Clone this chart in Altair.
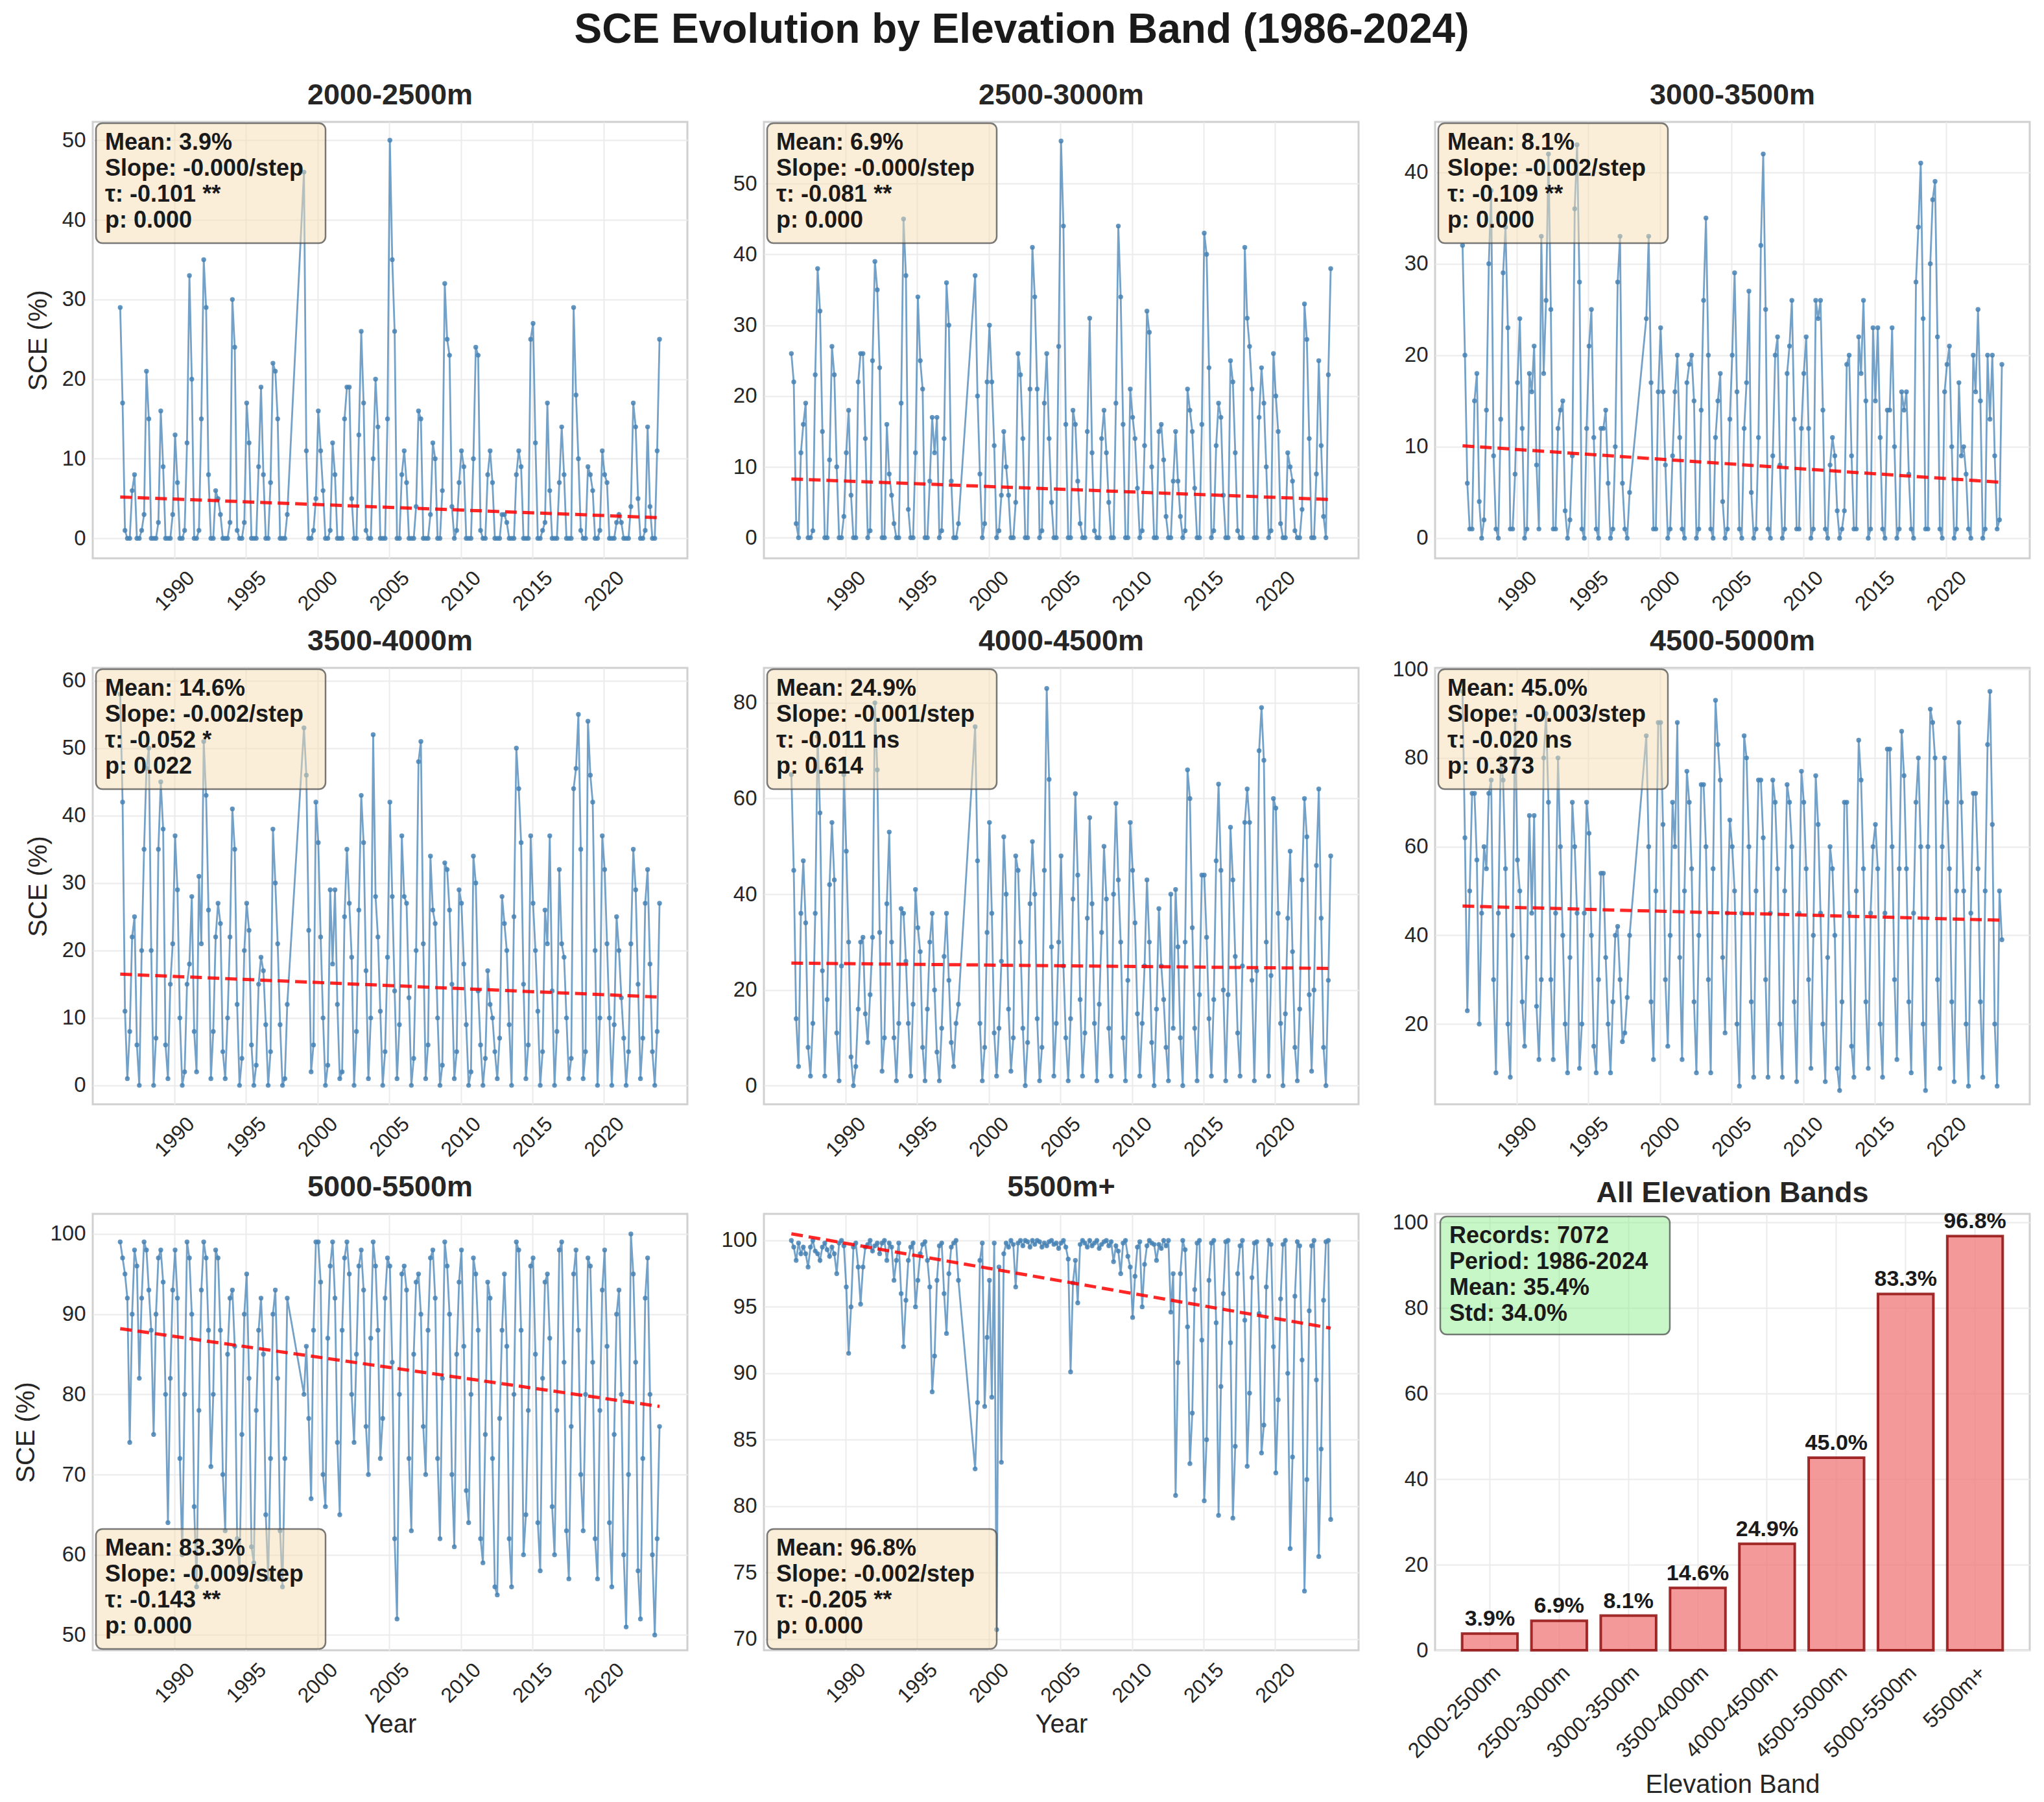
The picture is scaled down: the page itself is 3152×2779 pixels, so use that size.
import altair as alt
import pandas as pd

FONT = "Liberation Sans"

bands = ["2000-2500m", "2500-3000m", "3000-3500m", "3500-4000m",
         "4000-4500m", "4500-5000m", "5000-5500m", "5500m+"]

# sampling calendar: bi-monthly, Mar-1986 .. Nov-2023, no data in 1998
months = [1, 3, 5, 7, 9, 11]
years = list(range(1986, 1998)) + list(range(1999, 2024))
dates = [round(y + (m - 0.5) / 12, 3) for y in years for m in months
         if not (y == 1986 and m == 1)]

sce_2000_2500 = [
    29, 17, 1, 0, 0,
    6, 8, 0, 0, 1, 3,
    21, 15, 0, 0, 0, 2,
    16, 9, 0, 0, 0, 3,
    13, 7, 0, 0, 1, 12,
    33, 20, 0, 0, 1, 15,
    35, 29, 8, 0, 0, 6,
    5, 3, 0, 0, 0, 2,
    30, 24, 1, 0, 0, 2,
    17, 12, 0, 0, 0, 9,
    19, 8, 0, 0, 7, 22,
    21, 15, 0, 0, 0, 3,
    46, 11, 0, 0, 1, 5,
    16, 11, 6, 0, 0, 1,
    12, 8, 0, 0, 0, 15,
    19, 19, 5, 0, 0, 13,
    26, 17, 1, 0, 0, 10,
    20, 14, 0, 0, 0, 15,
    50, 35, 26, 0, 0, 8,
    11, 7, 0, 0, 0, 4,
    16, 15, 0, 0, 0, 3,
    12, 10, 0, 0, 6, 32,
    25, 23, 4, 0, 1, 7,
    11, 9, 0, 0, 0, 10,
    24, 23, 1, 0, 0, 8,
    11, 7, 0, 0, 0, 3,
    3, 2, 0, 0, 0, 8,
    11, 9, 0, 0, 0, 25,
    27, 12, 0, 0, 1, 2,
    17, 6, 0, 0, 0, 7,
    14, 8, 0, 0, 0, 29,
    18, 10, 1, 0, 0, 9,
    8, 6, 0, 0, 1, 11,
    8, 7, 0, 0, 0, 2,
    3, 2, 0, 0, 0, 4,
    17, 14, 5, 0, 0, 1,
    14, 4, 0, 0, 11, 25,
]

sce_2500_3000 = [
    26, 22, 2, 0, 12,
    16, 19, 0, 0, 1, 23,
    38, 32, 15, 0, 0, 11,
    27, 23, 10, 0, 0, 3,
    12, 18, 6, 0, 0, 22,
    26, 26, 14, 0, 1, 25,
    39, 35, 24, 0, 0, 16,
    9, 6, 2, 0, 0, 19,
    45, 37, 4, 0, 0, 12,
    34, 25, 21, 0, 0, 8,
    17, 12, 17, 0, 1, 14,
    36, 30, 8, 0, 0, 2,
    37, 20, 9, 0, 2, 22,
    30, 22, 13, 0, 1, 6,
    15, 10, 6, 0, 0, 5,
    26, 23, 14, 0, 0, 21,
    41, 34, 21, 0, 1, 19,
    26, 14, 5, 0, 0, 27,
    56, 44, 16, 0, 0, 18,
    16, 8, 2, 0, 0, 15,
    31, 12, 1, 0, 0, 14,
    18, 12, 5, 0, 0, 19,
    44, 34, 16, 0, 0, 21,
    17, 14, 7, 0, 1, 13,
    32, 29, 10, 0, 0, 15,
    16, 11, 3, 0, 0, 8,
    15, 8, 3, 0, 1, 21,
    18, 15, 7, 0, 0, 16,
    43, 40, 24, 0, 1, 13,
    19, 17, 6, 0, 0, 25,
    22, 12, 1, 0, 0, 41,
    31, 27, 21, 0, 0, 17,
    24, 19, 10, 0, 1, 26,
    20, 15, 2, 0, 0, 12,
    10, 8, 1, 0, 0, 4,
    33, 28, 14, 0, 0, 9,
    25, 13, 3, 0, 23, 38,
]

sce_3000_3500 = [
    32, 20, 6, 1, 1,
    15, 18, 4, 0, 2, 14,
    30, 38, 9, 1, 0, 13,
    29, 34, 23, 1, 1, 7,
    17, 24, 12, 0, 1, 18,
    16, 21, 8, 1, 33, 18,
    26, 42, 25, 1, 1, 12,
    14, 15, 3, 0, 2, 9,
    36, 43, 28, 1, 0, 12,
    21, 25, 11, 1, 0, 12,
    12, 14, 6, 0, 1, 10,
    28, 33, 6, 1, 0, 5,
    24, 33, 17, 1, 1, 16,
    23, 16, 8, 0, 1, 9,
    16, 20, 11, 1, 0, 17,
    19, 20, 15, 0, 1, 14,
    26, 35, 20, 1, 0, 11,
    15, 18, 4, 0, 1, 13,
    20, 29, 16, 1, 0, 12,
    17, 27, 5, 0, 1, 11,
    32, 42, 25, 1, 0, 9,
    20, 22, 8, 0, 1, 18,
    21, 26, 13, 1, 1, 12,
    18, 22, 12, 0, 1, 26,
    24, 26, 14, 1, 0, 8,
    11, 9, 3, 0, 1, 3,
    19, 20, 9, 1, 1, 22,
    18, 26, 15, 0, 1, 23,
    15, 23, 11, 1, 0, 14,
    14, 23, 10, 0, 1, 16,
    14, 16, 7, 1, 0, 28,
    34, 41, 24, 1, 1, 30,
    37, 39, 22, 1, 0, 16,
    19, 21, 10, 0, 1, 17,
    9, 10, 7, 1, 0, 20,
    16, 25, 15, 0, 1, 20,
    13, 20, 9, 1, 2, 19,
]

sce_3500_4000 = [
    58, 42, 11, 1, 8,
    22, 25, 6, 0, 20, 35,
    47, 50, 20, 0, 7, 35,
    45, 38, 6, 1, 15, 21,
    37, 29, 10, 0, 2, 15,
    18, 28, 8, 2, 31, 21,
    51, 43, 26, 1, 8, 22,
    27, 24, 5, 1, 10, 22,
    41, 35, 12, 0, 4, 20,
    27, 23, 6, 0, 3, 15,
    19, 17, 9, 0, 5, 38,
    30, 21, 9, 0, 1, 12,
    53, 46, 23, 2, 6, 42,
    36, 22, 10, 0, 3, 29,
    18, 29, 12, 1, 2, 25,
    35, 27, 19, 0, 8, 26,
    43, 36, 17, 1, 10, 52,
    28, 22, 11, 0, 5, 19,
    42, 28, 14, 1, 9, 37,
    28, 27, 13, 0, 4, 20,
    48, 51, 21, 1, 6, 34,
    26, 24, 10, 0, 3, 33,
    32, 26, 15, 1, 5, 29,
    27, 18, 9, 0, 2, 34,
    30, 14, 6, 0, 4, 17,
    12, 10, 5, 1, 7, 28,
    24, 20, 9, 0, 25, 50,
    44, 36, 15, 1, 6, 37,
    27, 20, 11, 0, 5, 26,
    21, 37, 14, 0, 8, 32,
    21, 19, 10, 1, 4, 44,
    47, 55, 35, 1, 5, 54,
    46, 42, 20, 0, 10, 37,
    32, 21, 10, 0, 9, 25,
    20, 13, 7, 0, 5, 21,
    35, 29, 15, 1, 7, 27,
    32, 18, 5, 0, 8, 27,
]

sce_4000_4500 = [
    65, 45, 14, 4, 36,
    47, 34, 8, 2, 13, 36,
    73, 57, 24, 2, 18, 42,
    55, 43, 11, 1, 25, 65,
    49, 30, 6, 0, 4, 16,
    30, 31, 15, 9, 19, 31,
    80, 66, 32, 3, 10, 38,
    53, 30, 10, 1, 13, 37,
    36, 26, 13, 2, 17, 41,
    33, 28, 8, 1, 16, 30,
    36, 20, 7, 1, 12, 27,
    36, 22, 9, 4, 13, 17,
    75, 47, 13, 1, 8, 32,
    55, 36, 11, 2, 12, 26,
    52, 40, 16, 3, 10, 48,
    45, 30, 12, 0, 9, 38,
    51, 40, 14, 1, 8, 45,
    83, 64, 29, 2, 13, 30,
    48, 25, 10, 1, 14, 39,
    61, 44, 18, 2, 11, 35,
    56, 38, 13, 1, 17, 32,
    50, 39, 12, 2, 40, 59,
    43, 30, 10, 1, 22, 55,
    45, 34, 15, 2, 13, 25,
    43, 30, 9, 0, 16, 37,
    25, 18, 8, 1, 40, 12,
    41, 29, 10, 0, 30, 66,
    60, 33, 12, 1, 19, 44,
    44, 31, 14, 2, 18, 47,
    63, 45, 20, 1, 19, 54,
    43, 27, 11, 2, 25, 55,
    62, 55, 22, 1, 24, 70,
    79, 68, 30, 2, 23, 60,
    58, 36, 13, 0, 15, 35,
    49, 28, 8, 1, 16, 43,
    60, 52, 19, 3, 20, 46,
    62, 35, 8, 0, 22, 48,
]

sce_4500_5000 = [
    95, 62, 23, 50, 72,
    72, 57, 20, 45, 60, 55,
    72, 75, 30, 9, 45, 80,
    75, 55, 20, 8, 40, 90,
    57, 50, 25, 15, 35, 67,
    45, 67, 24, 12, 30, 80,
    90, 70, 30, 12, 45, 80,
    60, 40, 20, 9, 35, 70,
    60, 45, 10, 20, 45, 70,
    63, 40, 15, 9, 30, 54,
    54, 35, 20, 9, 25, 40,
    42, 30, 16, 18, 26, 40,
    85, 60, 25, 12, 50, 88,
    88, 65, 30, 15, 40, 70,
    60, 88, 35, 12, 50, 77,
    70, 55, 25, 9, 40, 74,
    74, 60, 30, 9, 55, 93,
    83, 75, 35, 18, 45, 66,
    60, 50, 20, 6, 45, 85,
    80, 60, 25, 8, 50, 75,
    75, 62, 30, 8, 45, 75,
    70, 55, 20, 8, 50, 74,
    70, 60, 25, 7, 45, 77,
    70, 55, 30, 10, 40, 76,
    65, 45, 20, 7, 35, 60,
    55, 40, 10, 5, 25, 70,
    70, 45, 15, 8, 50, 84,
    75, 55, 25, 10, 45, 60,
    65, 55, 20, 8, 45, 82,
    82, 60, 30, 12, 55, 86,
    76, 55, 25, 9, 45, 70,
    80, 60, 20, 5, 60, 91,
    88, 80, 30, 10, 60, 80,
    70, 55, 25, 7, 50, 88,
    70, 50, 20, 6, 45, 72,
    72, 55, 25, 8, 50, 83,
    95, 65, 20, 6, 50, 39,
]

sce_5000_5500 = [
    99, 97, 95, 92, 74,
    90, 98, 96, 82, 92, 99,
    98, 93, 88, 75, 90, 97,
    98, 94, 80, 64, 82, 93,
    98, 92, 72, 60, 80, 99,
    97, 90, 66, 56, 78, 93,
    99, 97, 88, 71, 80, 98,
    97, 88, 70, 63, 85, 92,
    93, 86, 62, 58, 75, 90,
    95, 82, 61, 59, 78, 88,
    92, 85, 65, 57, 72, 90,
    93, 82, 63, 56, 72, 92,
    80, 86, 77, 67, 88, 99,
    99, 94, 70, 66, 87, 96,
    99, 92, 74, 65, 88, 97,
    99, 95, 80, 74, 85, 96,
    98, 93, 76, 70, 87, 99,
    96, 88, 72, 77, 92, 97,
    96, 84, 62, 52, 80, 95,
    96, 93, 72, 63, 85, 94,
    95, 90, 76, 70, 88, 97,
    98, 92, 72, 62, 82, 99,
    96, 90, 70, 61, 85, 94,
    98, 86, 68, 64, 80, 97,
    95, 88, 62, 59, 75, 94,
    92, 72, 56, 55, 77, 88,
    95, 86, 62, 56, 80, 99,
    98, 88, 60, 65, 78, 96,
    97, 85, 64, 58, 82, 94,
    95, 87, 66, 60, 78, 98,
    99, 84, 63, 57, 76, 95,
    98, 88, 70, 63, 80, 97,
    96, 84, 62, 57, 78, 93,
    98, 86, 64, 56, 75, 90,
    93, 80, 60, 51, 70, 100,
    95, 84, 58, 52, 72, 92,
    97, 80, 60, 50, 62, 76,
]

sce_5500_plus = [
    100, 99.5, 98.5, 99.8, 99,
    99.5, 99, 98, 99.5, 100, 99.2,
    99, 98.5, 99.5, 99.8, 99.3, 98.8,
    99.5, 99, 97.5, 99.8, 100, 99.6,
    96.5, 91.5, 95, 99.5, 99.8, 98,
    95.2, 98, 99.5, 99.7, 100, 99.2,
    99.6, 99.8, 99, 99.8, 100, 98.5,
    99.8, 99.5, 97, 98.5, 99.8, 96,
    92, 95.5, 98.5, 99.5, 99.8, 95,
    97, 99, 99.7, 99.9, 98.5, 96.5,
    88.6, 91.3, 97, 99.6, 99.8, 96,
    93, 97.5, 99.5, 99.8, 100, 97,
    82.8, 87.8, 98.5, 99.8, 87.5, 92.7,
    97, 88.2, 99.8, 70.7, 98, 83.3,
    99, 99.8, 99.5, 100, 99.7, 96.5,
    99.8, 100, 99.6, 100, 99.9, 99.5,
    100, 99.7, 100, 99.9, 99.5, 99.8,
    99.6, 99.9, 100, 99.7, 99.8, 99.4,
    99.8, 100, 99.5, 98.6, 90.1, 96.8,
    98.5, 95.3, 99.7, 100, 99.8, 99.5,
    100, 99.6, 99.8, 100, 99.4, 99.7,
    99.9, 100, 99.6, 99.9, 98.4, 99.6,
    99.2, 97.5, 99.8, 100, 98.8, 98,
    94.2, 97.3, 99.5, 99.9, 95, 98.2,
    99.6, 100, 99.8, 99.7, 98.5, 99.7,
    99.4, 100, 99.6, 100, 94.6, 97.5,
    80.8, 90.8, 97.5, 100, 99.3, 93.5,
    83.2, 87, 96.3, 99.8, 100, 92.5,
    80.4, 85, 97, 99.8, 100, 93.8,
    79.3, 89, 96, 99.9, 100, 92.3,
    79.1, 84.5, 97.5, 99.6, 100, 94,
    83, 88.5, 97.2, 99.8, 99.9, 94.5,
    84, 86.1, 96.5, 100, 99.7, 92,
    82.5, 88, 95.6, 99.7, 100, 90,
    76.8, 83.7, 95.8, 99.9, 99.6, 91,
    73.6, 82, 94.7, 99.6, 100, 89.5,
    76.2, 84.3, 95.5, 99.9, 100, 79,
]

series = [sce_2000_2500, sce_2500_3000, sce_3000_3500, sce_3500_4000,
          sce_4000_4500, sce_4500_5000, sce_5000_5500, sce_5500_plus]

# linear-trend end values
trend_start = [5.2, 8.3, 10.1, 16.5, 25.6, 46.6, 88.2, 100.5]
trend_end = [2.6, 5.4, 6.1, 13.1, 24.5, 43.4, 78.5, 93.4]

# statistics printed in the boxes
means = [3.9, 6.9, 8.1, 14.6, 24.9, 45.0, 83.3, 96.8]
slopes = ["-0.000", "-0.000", "-0.002", "-0.002", "-0.001", "-0.003", "-0.009", "-0.002"]
taus = [-0.101, -0.081, -0.109, -0.052, -0.011, -0.020, -0.143, -0.205]
signif = ["**", "**", "**", "*", "ns", "ns", "**", "**"]
pvals = [0.000, 0.000, 0.000, 0.022, 0.614, 0.373, 0.000, 0.000]

total_records = 7072
period = "1986-2024"
overall_mean = 35.4
overall_std = 34.0

y_domains = [[-2.5, 52.3], [-2.9, 58.7], [-2.2, 45.5], [-2.8, 61.9],
             [-3.9, 87.3], [1.9, 100.3], [48.1, 102.5], [69.15, 102.0]]
y_ticks = [[0, 10, 20, 30, 40, 50], [0, 10, 20, 30, 40, 50], [0, 10, 20, 30, 40],
           [0, 10, 20, 30, 40, 50, 60], [0, 20, 40, 60, 80], [20, 40, 60, 80, 100],
           [50, 60, 70, 80, 90, 100], [70, 75, 80, 85, 90, 95, 100]]
x_ticks = [1990, 1995, 2000, 2005, 2010, 2015, 2020]
x_domain = [1984.29, 2025.82]

PW, PH = 917, 673
BLUE = "#4682B4"


def stat_box(x0, x1, y0, y1, fill, text, tx, ty):
    d = pd.DataFrame({"t": [text]})
    rect = alt.Chart(d).mark_rect(
        cornerRadius=10, fill=fill, fillOpacity=0.5,
        stroke="#4d4d4d", strokeWidth=2.5, strokeOpacity=0.75
    ).encode(x=alt.value(x0), x2=alt.value(x1), y=alt.value(y0), y2=alt.value(y1))
    txt = alt.Chart(d).mark_text(
        align="left", baseline="top", lineBreak="\n", lineHeight=40,
        fontSize=36, fontWeight="bold", font=FONT, color="#1a1a1a"
    ).encode(x=alt.value(tx), y=alt.value(ty), text="t:N")
    return rect + txt


def panel_title(text, offset=18):
    return alt.TitleParams(text, fontSize=45, fontWeight="bold", offset=offset)


def panel(i):
    vals = series[i]
    n = min(len(vals), len(dates))
    df = pd.DataFrame({"Year": dates[:n], "SCE": vals[:n]})
    xs = alt.Scale(domain=x_domain, nice=False, zero=False)
    ys = alt.Scale(domain=y_domains[i], nice=False, zero=False)
    xaxis = alt.Axis(values=x_ticks, format="d", labelAngle=315, labelAlign="center",
                     labelBaseline="middle", labelPadding=50, labelOverlap=False,
                     labelFlush=False, labelFontSize=32, titlePadding=8,
                     title="Year" if i in (6, 7) else None)
    yaxis = alt.Axis(values=y_ticks[i], labelPadding=11, labelFontSize=33,
                     titlePadding=16, title="SCE (%)" if i % 3 == 0 else None)
    base = alt.Chart(df)
    line = base.mark_line(color=BLUE, strokeWidth=2.8, opacity=0.75).encode(
        x=alt.X("Year:Q", scale=xs, axis=xaxis),
        y=alt.Y("SCE:Q", scale=ys, axis=yaxis))
    pts = base.mark_circle(color=BLUE, size=55, opacity=0.85).encode(
        x="Year:Q", y="SCE:Q")
    tdf = pd.DataFrame({"Year": [dates[0], dates[n - 1]],
                        "SCE": [trend_start[i], trend_end[i]]})
    trend = alt.Chart(tdf).mark_line(color="#FF0000", strokeDash=[18, 9],
                                     strokeWidth=5, opacity=0.85).encode(
        x="Year:Q", y="SCE:Q")
    text = "\n".join([f"Mean: {means[i]:.1f}%", f"Slope: {slopes[i]}/step",
                      f"τ: {taus[i]:.3f} {signif[i]}", f"p: {pvals[i]:.3f}"])
    if i >= 6:
        box = stat_box(5, 359, PH - 187, PH - 2, "#F5DEB3", text, 19, PH - 174)
    else:
        box = stat_box(5, 359, 2, 187, "#F5DEB3", text, 19, 15)
    # the "100" tick label of 4500-5000m pokes above the frame; compensate
    off = 4 if i == 5 else 18
    return alt.layer(line, pts, trend, box).properties(
        width=PW, height=PH, title=panel_title(bands[i], off))


def bar_panel():
    bdf = pd.DataFrame({"band": bands, "mean": means,
                        "label": [f"{m:.1f}%" for m in means]})
    x = alt.X("band:N", sort=bands,
              scale=alt.Scale(paddingInner=0.2, paddingOuter=0.39),
              axis=alt.Axis(labelAngle=315, labelAlign="right", labelBaseline="top",
                            labelPadding=18, labelFontSize=33, labelLimit=400,
                            title="Elevation Band", titlePadding=15, grid=True,
                            bandPosition=0.5))
    y = alt.Y("mean:Q", scale=alt.Scale(domain=[0, 102], nice=False),
              axis=alt.Axis(values=[0, 20, 40, 60, 80, 100], labelPadding=11,
                            labelFontSize=33, title=None))
    bars = alt.Chart(bdf).mark_bar(fill="#F08080", fillOpacity=0.8, stroke="#8B0000",
                                   strokeOpacity=0.8, strokeWidth=4).encode(x=x, y=y)
    labels = alt.Chart(bdf).mark_text(fontSize=34, fontWeight="bold", font=FONT,
                                      baseline="bottom", dy=-5, color="#1a1a1a").encode(
        x=alt.X("band:N", sort=bands), y="mean:Q", text="label:N")
    gtext = "\n".join([f"Records: {total_records}", f"Period: {period}",
                       f"Mean: {overall_mean:.1f}%", f"Std: {overall_std:.1f}%"])
    box = stat_box(8, 362, 4, 186, "#90EE90", gtext, 22, 17)
    return alt.layer(bars, labels, box).properties(
        width=PW, height=PH, title=panel_title("All Elevation Bands", 4))


panels = [panel(i) for i in range(8)] + [bar_panel()]

chart = alt.concat(*panels, columns=3, spacing={"row": 16, "column": 48}).properties(
    title=alt.TitleParams("SCE Evolution by Elevation Band (1986-2024)", fontSize=64,
                          fontWeight="bold", anchor="middle", offset=45, color="#1a1a1a"),
    padding={"left": 11, "top": 6, "right": 8, "bottom": 4},
).configure_axis(
    labelFont=FONT, labelFontSize=31, labelColor="#262626",
    titleFont=FONT, titleFontSize=40, titleFontWeight="normal", titleColor="#262626",
    gridColor="#EBEBEB", gridWidth=2, domain=False, ticks=False,
).configure_title(
    font=FONT, color="#262626"
).configure_view(
    stroke="#D0D0D0", strokeWidth=3
)

chart.save("out.html", embed_options={"renderer": "svg", "actions": False})
